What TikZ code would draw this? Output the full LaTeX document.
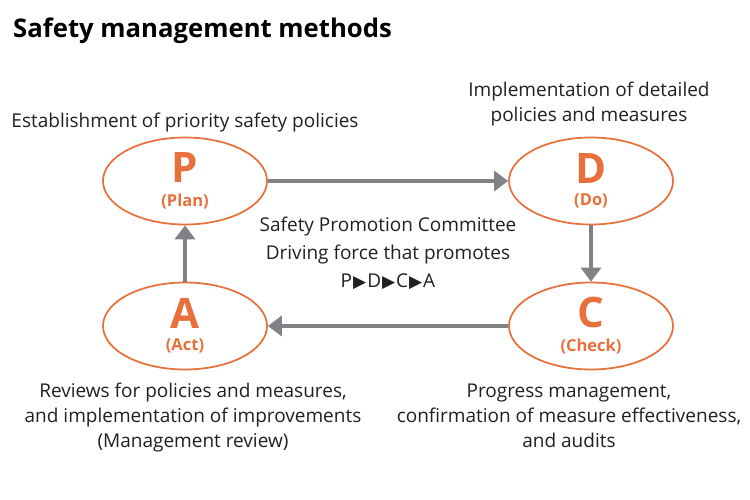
\documentclass[tikz,border=0pt]{standalone}
\usepackage{fontspec}
\setmainfont{Open Sans}
\newfontfamily\symfont{DejaVu Sans}
\usetikzlibrary{shapes.geometric}
\usetikzlibrary{arrows.meta}
\definecolor{pdcaorange}{HTML}{E8703A}
\definecolor{pdcagray}{HTML}{808285}
\definecolor{pdcatext}{HTML}{231F20}

\begin{document}
\begin{tikzpicture}
            [x=1pt, y=-1pt, every node/.style={inner sep=0pt}]
                \useasboundingbox (0,0) rectangle (750,500);
                \node (title) [anchor=base west, text=black, font=\fontsize{25.7}{26}\selectfont\bfseries] at (13, 38) {Safety management methods};
                \node (P) [ellipse, minimum width=164pt, minimum height=87pt, fill=white, line width=1.75pt, draw=pdcaorange, text=pdcaorange, align=center, font=\fontsize{10}{12}\selectfont] at (185, 181) {{\fontsize{42}{40}\selectfont\bfseries P}\\[10pt]{\fontsize{16.5}{17}\selectfont\bfseries (Plan)}};
                \node (D) [ellipse, minimum width=164pt, minimum height=87pt, fill=white, line width=1.75pt, draw=pdcaorange, text=pdcaorange, align=center, font=\fontsize{10}{12}\selectfont] at (591, 181) {{\fontsize{42}{40}\selectfont\bfseries D}\\[10pt]{\fontsize{16.5}{17}\selectfont\bfseries (Do)}};
                \node (C) [ellipse, minimum width=164pt, minimum height=87pt, fill=white, line width=1.75pt, draw=pdcaorange, text=pdcaorange, align=center, font=\fontsize{10}{12}\selectfont] at (591, 326) {{\fontsize{42}{40}\selectfont\bfseries C}\\[10pt]{\fontsize{16.5}{17}\selectfont\bfseries (Check)}};
                \node (A) [ellipse, minimum width=164pt, minimum height=87pt, fill=white, line width=1.75pt, draw=pdcaorange, text=pdcaorange, align=center, font=\fontsize{10}{12}\selectfont] at (185, 326) {{\fontsize{42}{40}\selectfont\bfseries A}\\[10pt]{\fontsize{16.5}{17}\selectfont\bfseries (Act)}};
                \draw [line width=4pt, -{Triangle[length=14pt, width=20pt]}, color=pdcagray] (P) to  (D);
                \draw [line width=4pt, -{Triangle[length=14pt, width=20pt]}, color=pdcagray] (D) to  (C);
                \draw [line width=4pt, -{Triangle[length=14pt, width=20pt]}, color=pdcagray] (C) to  (A);
                \draw [line width=4pt, -{Triangle[length=14pt, width=20pt]}, color=pdcagray] (A) to  (P);
                \node (planlabel) [align=center, text=pdcatext, font=\fontsize{19}{25}\selectfont] at (185, 123) {Establishment of priority safety policies};
                \node (dolabel) [align=center, text=pdcatext, font=\fontsize{19}{25}\selectfont] at (589, 104.5) {Implementation of detailed\\policies and measures};
                \node (committee) [align=center, text=pdcatext, font=\fontsize{19}{28}\selectfont] at (388, 253) {Safety Promotion Committee\\Driving force that promotes\\P{\symfont\fontsize{17}{17}\selectfont\kern1pt▶\kern1pt}D{\symfont\fontsize{17}{17}\selectfont\kern1pt▶\kern1pt}C{\symfont\fontsize{17}{17}\selectfont\kern1pt▶\kern1pt}A};
                \node (actlabel) [align=center, text=pdcatext, font=\fontsize{19}{25}\selectfont] at (193, 418) {Reviews for policies and measures,\\and implementation of improvements\\(Management review)};
                \node (checklabel) [align=center, text=pdcatext, font=\fontsize{19}{25}\selectfont] at (569, 416) {Progress management,\\confirmation of measure effectiveness,\\and audits};
            \end{tikzpicture}
\end{document}
